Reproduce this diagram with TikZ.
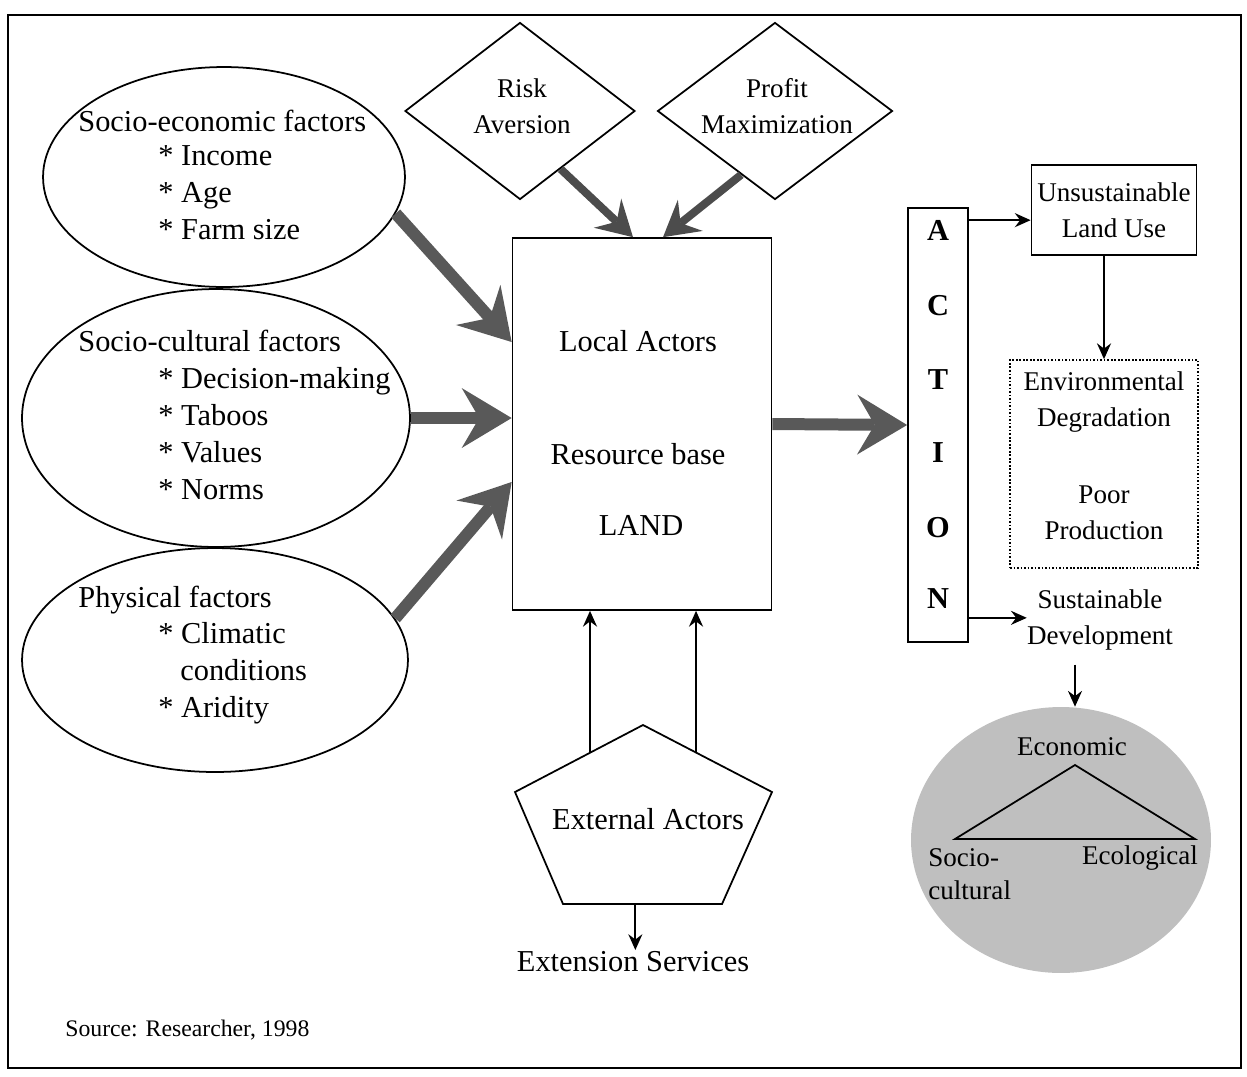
\documentclass[tikz,border=0pt]{standalone}
\usepackage{fontspec}
\setmainfont{Liberation Serif}
\usetikzlibrary{arrows.meta,shapes.geometric,calc}

\begin{document}
\begin{tikzpicture}[x=0.02cm, y=-0.02cm,
    box/.style={draw, line width=1pt, inner sep=0pt},
    lbl/.style={font=\fontsize{17.3}{21}\selectfont, inner sep=0pt, text height=12pt, text depth=3.5pt},
    txt/.style={font=\fontsize{15.4}{20.4}\selectfont, inner sep=0pt, align=center},
    arr/.style={-{Stealth[length=9pt, width=8pt, inset=3pt]}, line width=1pt},
    fat/.style={-{Stealth[length=1cm, width=1.2cm, inset=0.35cm, line width=0pt]}, line width=0.24cm, black!65},
    slim/.style={-{Stealth[length=0.7cm, width=0.8cm, inset=0.25cm, line width=0pt]}, line width=0.16cm, black!70}
]
\useasboundingbox (0,0) rectangle (1247,1076);
\draw[line width=0.9pt] (8,15) rectangle (1241,1068);

% factors
\node[box, ellipse, minimum width=7.24cm, minimum height=4.4cm] (se) at (224,177) {};
\node[box, ellipse, minimum width=7.76cm, minimum height=5.16cm] (sc) at (216,418) {};
\node[box, ellipse, minimum width=7.72cm, minimum height=4.48cm] (ph) at (215,660) {};

\node[lbl, anchor=west] (seHead) at (78,124) {Socio-economic factors};
\foreach \t [count=\i] in {Income, Age, Farm size}
  \node[lbl, anchor=west] (se\i) at (158,{121+37*\i}) {* \t};
\node[lbl, anchor=west] (scHead) at (78,344) {Socio-cultural factors};
\foreach \t [count=\i] in {Decision-making, Taboos, Values, Norms}
  \node[lbl, anchor=west] (sc\i) at (158,{344+37*\i}) {* \t};
\node[lbl, anchor=west] (phHead) at (78,600) {Physical factors};
\node[lbl, anchor=west] (ph1) at (158,636) {* Climatic};
\node[lbl, anchor=west] (ph2) at (180,673) {conditions};
\node[lbl, anchor=west] (ph3) at (158,710) {* Aridity};

% motives
\node[box, diamond, minimum width=4.6cm, minimum height=3.54cm] (risk) at (520,111) {};
\node[box, diamond, minimum width=4.7cm, minimum height=3.54cm] (profit) at (775,111) {};
\node[txt] (riskT) at (522,106) {Risk\\Aversion};
\node[txt] (profitT) at (777,106) {Profit\\Maximization};

% local actors
\node[box, minimum width=5.18cm, minimum height=7.44cm] (local) at (642,424) {};
\node[lbl] (la) at (638,344) {Local Actors};
\node[lbl] (rb) at (638,457) {Resource base};
\node[lbl] (land) at (641,528) {LAND};

% action
\node[box, minimum width=1.2cm, minimum height=8.68cm] (action) at (938,425) {};
\foreach \ch/\y in {A/233, C/308, T/382, I/455, O/530, N/601}
  \node[lbl, font=\fontsize{17.3}{21}\selectfont\bfseries] (act\ch) at (938,\y) {\ch};

% outcomes
\node[box, txt, minimum width=3.3cm, minimum height=1.8cm] (unsus) at (1114,210) {Unsustainable\\Land Use};
\node[box, densely dotted, minimum width=3.76cm, minimum height=4.16cm] (env) at (1104,464) {};
\node[txt] (envdeg) at (1104,402) {Environmental\\Degradation};
\node[txt] (poor) at (1104,513) {Poor\\Production};
\node[txt] (sustain) at (1100,620) {Sustainable\\Development};

\node[ellipse, fill=black!25, minimum width=6cm, minimum height=5.32cm, inner sep=0pt] (circ) at (1061,840) {};
\coordinate (econ) at (1075,765);
\coordinate (soc) at (955,839);
\coordinate (eco) at (1195,839);
\draw[line width=1pt] (econ) -- (eco) -- (soc) -- cycle;
\node[txt] (econT) at (1072,747) {Economic};
\node[txt, anchor=west] (socT) at (928,858) {Socio-};
\node[txt, anchor=west] (socT2) at (928,890) {cultural};
\node[txt] (ecoT) at (1140,858) {Ecological};

% external actors
\coordinate (pt) at (643,725);
\coordinate (pl) at (515,792);
\coordinate (pbl) at (563,904);
\coordinate (pbr) at (722,904);
\coordinate (pr) at (772,792);
\draw[line width=1pt] (pt) -- (pr) -- (pbr) -- (pbl) -- (pl) -- cycle;
\node[lbl] (ext) at (648,822) {External Actors};
\node[lbl] (extserv) at (633,964) {Extension Services};
\coordinate (pu1) at ($(pl)!0.586!(pt)$);
\coordinate (pu2) at ($(pt)!0.411!(pr)$);
\coordinate (pd) at ($(pbl)!0.455!(pbr)$);

\node[font=\fontsize{13.5}{16}\selectfont, inner sep=0pt, anchor=west] (source) at (65,1030) {Source: Researcher, 1998};

% big arrows
\draw[fat] (se.-12) -- ($(local.west)+(0,-82)$);
\draw[fat] (sc.east) -- (sc.east -| local.west);
\draw[fat] (ph.13) -- ($(local.west)+(0,58)$);
\draw[fat] (local.east) -- (action.west);
\draw[slim] (risk.-55) -- ($(local.north)+(-9,0)$);
\draw[slim] (profit.-118) -- ($(local.north)+(21,0)$);

% thin arrows
\coordinate (a1) at ($(action.north east)+(0,13)$);
\coordinate (a2) at ($(action.south east)+(0,-25)$);
\coordinate (s1) at ($(sustain.south)+(-25,14)$);
\draw[arr] (a1) -- (a1 -| unsus.west);
\draw[arr] (env.north |- unsus.south) -- (env.north);
\draw[arr] (a2) -- (a2 -| sustain.west);
\draw[arr] (s1) -- (s1 |- circ.north);
\draw[arr] (pu1) -- (pu1 |- local.south);
\draw[arr] (pu2) -- (pu2 |- local.south);
\draw[arr] (pd) -- (pd |- extserv.north);
\end{tikzpicture}
\end{document}
